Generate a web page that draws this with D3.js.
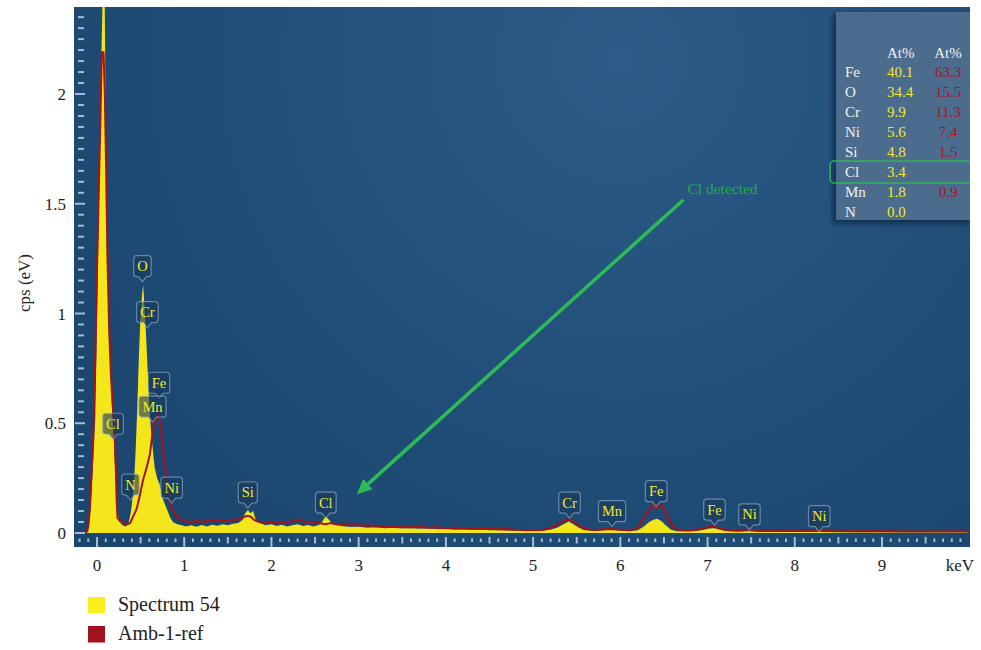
<!DOCTYPE html>
<html>
<head>
<meta charset="utf-8">
<script src="https://cdn.jsdelivr.net/npm/d3@7"></script>
<style>
  body { margin: 0; background: #fff; }
  svg { display: block; }
  text { font-family: "Liberation Serif", "DejaVu Serif", serif; }
</style>
</head>
<body>
<svg id="chart"></svg>
<script>
// [keV, cps]
const spectrum54 = [
  [-0.14,0],[-0.10,0.005],[-0.08,0.08],[-0.06,0.2],[-0.04,0.35],[-0.02,0.52],[0.00,0.95],[0.02,1.5],
  [0.04,2.0],[0.06,2.35],[0.07,2.6],[0.085,2.6],[0.095,2.1],[0.11,1.45],[0.13,1.05],[0.15,0.78],
  [0.17,0.6],[0.19,0.45],[0.21,0.28],[0.23,0.12],[0.25,0.06],[0.28,0.04],[0.32,0.03],[0.36,0.04],
  [0.39,0.1],[0.42,0.2],[0.44,0.35],[0.46,0.55],[0.48,0.8],[0.50,1.0],[0.52,1.1],[0.53,1.13],
  [0.545,1.02],[0.56,0.92],[0.58,0.75],[0.60,0.58],[0.62,0.46],[0.64,0.38],[0.66,0.3],[0.69,0.25],
  [0.72,0.22],[0.75,0.16],[0.78,0.13],[0.81,0.1],[0.84,0.07],[0.87,0.05],[0.92,0.04],[0.97,0.035],
  [1.02,0.03],[1.08,0.035],[1.14,0.028],[1.2,0.036],[1.26,0.03],[1.32,0.038],[1.38,0.033],[1.44,0.04],
  [1.5,0.035],[1.56,0.042],[1.62,0.045],[1.67,0.06],[1.70,0.09],[1.73,0.105],[1.76,0.09],[1.79,0.1],
  [1.82,0.06],[1.87,0.045],[1.93,0.035],[2.0,0.04],[2.06,0.032],[2.12,0.038],[2.18,0.03],[2.24,0.035],
  [2.3,0.04],[2.36,0.032],[2.42,0.036],[2.48,0.03],[2.54,0.035],[2.58,0.05],[2.62,0.075],[2.66,0.06],
  [2.7,0.04],[2.76,0.034],[2.84,0.03],[2.92,0.027],[3.0,0.028],[3.1,0.024],[3.2,0.026],[3.3,0.022],
  [3.4,0.024],[3.5,0.02],[3.6,0.022],[3.7,0.019],[3.8,0.02],[3.9,0.017],[4.0,0.018],[4.1,0.015],
  [4.2,0.016],[4.3,0.014],[4.4,0.015],[4.5,0.012],[4.6,0.013],[4.7,0.011],[4.8,0.01],[4.9,0.011],
  [5.0,0.009],[5.1,0.01],[5.2,0.015],[5.28,0.025],[5.35,0.04],[5.41,0.052],[5.46,0.04],[5.52,0.025],
  [5.58,0.014],[5.65,0.01],[5.72,0.009],[5.78,0.012],[5.85,0.014],[5.92,0.015],[5.98,0.012],[6.05,0.01],
  [6.12,0.008],[6.2,0.012],[6.27,0.03],[6.33,0.05],[6.38,0.06],[6.42,0.065],[6.47,0.055],[6.52,0.035],
  [6.58,0.015],[6.65,0.008],[6.75,0.007],[6.85,0.008],[6.95,0.014],[7.02,0.02],[7.08,0.022],[7.14,0.015],
  [7.22,0.008],[7.35,0.006],[7.47,0.008],[7.6,0.005],[7.8,0.005],[8.0,0.004],[8.28,0.005],[8.5,0.003],
  [9.0,0.003],[9.5,0.003],[9.98,0.003]
];

const amb1ref = [
  [-0.13,0],[-0.10,0.03],[-0.08,0.12],[-0.06,0.3],[-0.04,0.5],[-0.02,0.8],[0.00,1.2],[0.02,1.55],
  [0.04,1.9],[0.055,2.19],[0.075,2.19],[0.09,2.0],[0.105,1.65],[0.12,1.25],[0.14,0.92],[0.16,0.72],
  [0.18,0.58],[0.20,0.47],[0.215,0.3],[0.225,0.15],[0.235,0.07],[0.26,0.055],[0.30,0.05],[0.34,0.038],
  [0.38,0.045],[0.42,0.08],[0.455,0.11],[0.49,0.17],[0.527,0.24],[0.57,0.3],[0.607,0.36],[0.635,0.45],
  [0.655,0.5],[0.68,0.54],[0.70,0.55],[0.72,0.5],[0.741,0.44],[0.76,0.37],[0.779,0.3],[0.80,0.23],
  [0.817,0.18],[0.84,0.14],[0.86,0.11],[0.89,0.09],[0.92,0.075],[0.97,0.06],[1.03,0.052],[1.08,0.05],
  [1.14,0.055],[1.2,0.05],[1.26,0.058],[1.32,0.052],[1.38,0.06],[1.44,0.055],[1.5,0.058],[1.56,0.06],
  [1.62,0.062],[1.67,0.07],[1.72,0.078],[1.76,0.075],[1.8,0.06],[1.86,0.05],[1.92,0.045],[1.98,0.05],
  [2.04,0.044],[2.1,0.05],[2.16,0.046],[2.22,0.052],[2.28,0.06],[2.33,0.062],[2.38,0.05],[2.44,0.046],
  [2.5,0.05],[2.56,0.044],[2.62,0.04],[2.68,0.045],[2.74,0.04],[2.8,0.042],[2.88,0.036],[2.96,0.038],
  [3.04,0.033],[3.12,0.035],[3.2,0.03],[3.3,0.032],[3.4,0.028],[3.5,0.03],[3.6,0.026],[3.7,0.028],
  [3.8,0.024],[3.9,0.026],[4.0,0.022],[4.1,0.024],[4.2,0.02],[4.3,0.022],[4.4,0.019],[4.5,0.02],
  [4.6,0.017],[4.7,0.018],[4.8,0.015],[4.9,0.014],[5.0,0.012],[5.1,0.014],[5.18,0.02],[5.25,0.032],
  [5.32,0.048],[5.38,0.06],[5.42,0.062],[5.47,0.05],[5.52,0.035],[5.58,0.022],[5.65,0.016],[5.72,0.014],
  [5.8,0.016],[5.88,0.018],[5.95,0.016],[6.05,0.014],[6.12,0.013],[6.2,0.025],[6.26,0.06],[6.31,0.095],
  [6.36,0.12],[6.39,0.128],[6.42,0.112],[6.46,0.132],[6.5,0.11],[6.54,0.07],[6.6,0.03],[6.66,0.016],
  [6.75,0.013],[6.85,0.014],[6.94,0.02],[7.0,0.026],[7.06,0.03],[7.12,0.024],[7.2,0.015],[7.3,0.012],
  [7.4,0.013],[7.46,0.017],[7.52,0.013],[7.65,0.011],[7.8,0.01],[8.0,0.009],[8.2,0.01],[8.3,0.011],
  [8.45,0.009],[8.7,0.008],[9.0,0.008],[9.3,0.007],[9.6,0.007],[9.98,0.007]
];

const seriesNames = ["Spectrum 54", "Amb-1-ref"];
const xTicks = [0, 1, 2, 3, 4, 5, 6, 7, 8, 9];
const yTicks = [0, 0.5, 1, 1.5, 2];

// peak markers: name, energy, level of the pointer tip
const peakNames = ["O", "Cr", "Fe", "Mn", "Cl", "N", "Ni", "Si", "Cl", "Cr", "Mn", "Fe", "Fe", "Ni", "Ni"];
const peakKeV   = [0.521, 0.578, 0.71, 0.636, 0.183, 0.384, 0.856, 1.729, 2.623, 5.418, 5.905, 6.411, 7.079, 7.48, 8.28];
const peakCps   = [1.145, 0.936, 0.614, 0.505, 0.427, 0.15, 0.136, 0.114, 0.068, 0.068, 0.029, 0.12, 0.036, 0.014, 0.006];

// quantification table
const tableElements = ["Fe", "O", "Cr", "Ni", "Si", "Cl", "Mn", "N"];
const tableSpectrum = ["40.1", "34.4", "9.9", "5.6", "4.8", "3.4", "1.8", "0.0"];
const tableRef      = ["63.3", "15.5", "11.3", "7.4", "1.5", "", "0.9", ""];
const tableHeader = "At%";
const highlighted = "Cl";

const width = 981, height = 650;
const frame = {left: 74, right: 970, top: 7, bottom: 547};
const yellow = "#f3e71c", red = "#a3121f", green = "#2dbb55";

const svg = d3.select("#chart").attr("width", width).attr("height", height);

const x = d3.scaleLinear().domain([0, 9]).range([97, 882]);
const y = d3.scaleLinear().domain([0, 2]).range([533, 94]);

const defs = svg.append("defs");
const bg = defs.append("radialGradient").attr("id", "bg")
  .attr("gradientUnits", "userSpaceOnUse")
  .attr("cx", 620).attr("cy", 60).attr("r", 640);
bg.append("stop").attr("offset", 0).attr("stop-color", "#2b5b86");
bg.append("stop").attr("offset", 0.55).attr("stop-color", "#214f79");
bg.append("stop").attr("offset", 1).attr("stop-color", "#1b466f");

defs.append("clipPath").attr("id", "plotclip")
  .append("rect")
  .attr("x", frame.left).attr("y", frame.top)
  .attr("width", frame.right - frame.left).attr("height", frame.bottom - frame.top);

const shadow = defs.append("filter").attr("id", "shadow").attr("x", -0.2).attr("y", -0.2).attr("width", 1.4).attr("height", 1.4);
shadow.append("feGaussianBlur").attr("stdDeviation", 2.5);

svg.append("rect")
  .attr("x", frame.left).attr("y", frame.top)
  .attr("width", frame.right - frame.left).attr("height", frame.bottom - frame.top)
  .attr("fill", "url(#bg)");

const plot = svg.append("g").attr("clip-path", "url(#plotclip)");

// spectra
const area = d3.area().x(d => x(d[0])).y0(y(0)).y1(d => y(d[1]));
const line = d3.line().x(d => x(d[0])).y(d => y(d[1]));

plot.append("path").datum(spectrum54).attr("d", area).attr("fill", yellow);
plot.append("path").datum(amb1ref).attr("d", line)
  .attr("fill", "none").attr("stroke", red).attr("stroke-width", 2).attr("stroke-linejoin", "round");

// inner ticks along the bottom
const tickColor = "#a9bccd";
const xMinor = d3.range(-2, 100).map(i => i / 10);
plot.selectAll(".xt").data(xMinor).enter().append("line")
  .attr("x1", d => x(d)).attr("x2", d => x(d))
  .attr("y1", d => Math.abs(d % 1) < 1e-6 ? 537 : (Math.abs(d % 0.5) < 1e-6 || Math.abs(d % 0.5 - 0.5) < 1e-6) ? 537 : 538.5)
  .attr("y2", d => Math.abs(d % 1) < 1e-6 ? frame.bottom : (Math.abs(d % 0.5) < 1e-6 || Math.abs(d % 0.5 - 0.5) < 1e-6) ? 543.5 : 542)
  .attr("stroke", tickColor).attr("stroke-width", 2);

// inner ticks along the left
const yMinor = d3.range(0, 48).map(i => i * 0.05);
plot.selectAll(".yt").data(yMinor).enter().append("line")
  .attr("y1", d => y(d)).attr("y2", d => y(d))
  .attr("x1", (d, i) => i % 10 === 0 ? 75 : 78)
  .attr("x2", (d, i) => i % 10 === 0 ? 85 : 84)
  .attr("stroke", tickColor).attr("stroke-width", 2);

// peak markers
const markers = plot.selectAll(".peak").data(peakNames).enter().append("g");
markers.each(function(name, i) {
  const g = d3.select(this);
  const cx = x(peakKeV[i]);
  const tip = y(peakCps[i]);
  const y1 = tip - 5, y0 = y1 - 21;
  const t = g.append("text").attr("x", cx).attr("y", y1 - 5.5)
    .attr("text-anchor", "middle").attr("font-size", 14.5).attr("fill", "#f4ea2a").text(name);
  const w = t.node().getComputedTextLength() + 7;
  const x0 = cx - w / 2, x1 = cx + w / 2, r = 3;
  const p = `M${x0 + r},${y0} H${x1 - r} Q${x1},${y0} ${x1},${y0 + r} V${y1 - r} Q${x1},${y1} ${x1 - r},${y1}` +
            ` H${cx + 4} L${cx},${y1 + 5} L${cx - 4},${y1} H${x0 + r} Q${x0},${y1} ${x0},${y1 - r} V${y0 + r} Q${x0},${y0} ${x0 + r},${y0} Z`;
  g.insert("path", "text").attr("d", p)
    .attr("fill", "rgba(24,58,92,0.62)").attr("stroke", "rgba(170,190,210,0.55)").attr("stroke-width", 1.2);
});

// annotation arrow
const arrowFrom = [6.724, 1.518], arrowTo = [2.978, 0.177];
const ax0 = x(arrowFrom[0]), ay0 = y(arrowFrom[1]), ax1 = x(arrowTo[0]), ay1 = y(arrowTo[1]);
const ang = Math.atan2(ay1 - ay0, ax1 - ax0);
const headLen = 15, headW = 7;
const bx = ax1 - headLen * Math.cos(ang), by = ay1 - headLen * Math.sin(ang);
plot.append("line").attr("x1", ax0).attr("y1", ay0).attr("x2", bx).attr("y2", by)
  .attr("stroke", green).attr("stroke-width", 3.5);
plot.append("path")
  .attr("d", `M${ax1},${ay1} L${bx + headW * Math.sin(ang)},${by - headW * Math.cos(ang)} L${bx - headW * Math.sin(ang)},${by + headW * Math.cos(ang)} Z`)
  .attr("fill", green);
plot.append("text").attr("x", ax0 + 4).attr("y", ay0 - 5.5)
  .attr("font-size", 15.5).attr("fill", "#22a84c").text("Cl detected");

// quantification table
const tbl = plot.append("g");
tbl.append("rect").attr("x", 833).attr("y", 14).attr("width", 137).attr("height", 209)
  .attr("fill", "rgba(8,25,45,0.6)").attr("filter", "url(#shadow)");
tbl.append("rect").attr("x", 836).attr("y", 12).attr("width", 134).attr("height", 208)
  .attr("fill", "#4c6c8d");
tbl.append("text").attr("x", 887).attr("y", 58).attr("font-size", 15).attr("fill", "#f2f2f2").text(tableHeader);
tbl.append("text").attr("x", 948).attr("y", 58).attr("font-size", 15).attr("text-anchor", "middle").attr("fill", "#f2f2f2").text(tableHeader);
tableElements.forEach((el, i) => {
  const ty = 77 + i * 20;
  tbl.append("text").attr("x", 845).attr("y", ty).attr("font-size", 15).attr("fill", "#f2f2f2").text(el);
  tbl.append("text").attr("x", 887).attr("y", ty).attr("font-size", 15).attr("fill", "#f1e829").text(tableSpectrum[i]);
  tbl.append("text").attr("x", 948).attr("y", ty).attr("font-size", 15).attr("text-anchor", "middle").attr("fill", "#a8142a").text(tableRef[i]);
  if (el === highlighted) {
    tbl.append("rect").attr("x", 830).attr("y", ty - 16).attr("width", 142).attr("height", 22).attr("rx", 4)
      .attr("fill", "none").attr("stroke", "#2fb35a").attr("stroke-width", 1.5);
  }
});

// axis labels
svg.selectAll(".ylab").data(yTicks).enter().append("text")
  .attr("x", 66).attr("y", d => y(d) + 6)
  .attr("text-anchor", "end").attr("font-size", 17).attr("fill", "#222").text(d => d);

svg.selectAll(".xlab").data(xTicks).enter().append("text")
  .attr("x", d => x(d)).attr("y", 571)
  .attr("text-anchor", "middle").attr("font-size", 17).attr("fill", "#222").text(d => d);

svg.append("text").attr("x", 960).attr("y", 571).attr("text-anchor", "middle")
  .attr("font-size", 17).attr("fill", "#222").text("keV");

svg.append("text").attr("transform", "translate(30,283) rotate(-90)")
  .attr("text-anchor", "middle").attr("font-size", 17).attr("fill", "#222").text("cps (eV)");

// legend
const legendColors = ["#fcee1b", "#a3121c"];
const legend = svg.selectAll(".leg").data(seriesNames).enter().append("g")
  .attr("transform", (d, i) => `translate(88,${597 + i * 29})`);
legend.append("rect").attr("width", 17).attr("height", 16.5).attr("fill", (d, i) => legendColors[i]);
legend.append("text").attr("x", 30).attr("y", 14).attr("font-size", 20).attr("fill", "#222").text(d => d);
</script>
</body>
</html>
